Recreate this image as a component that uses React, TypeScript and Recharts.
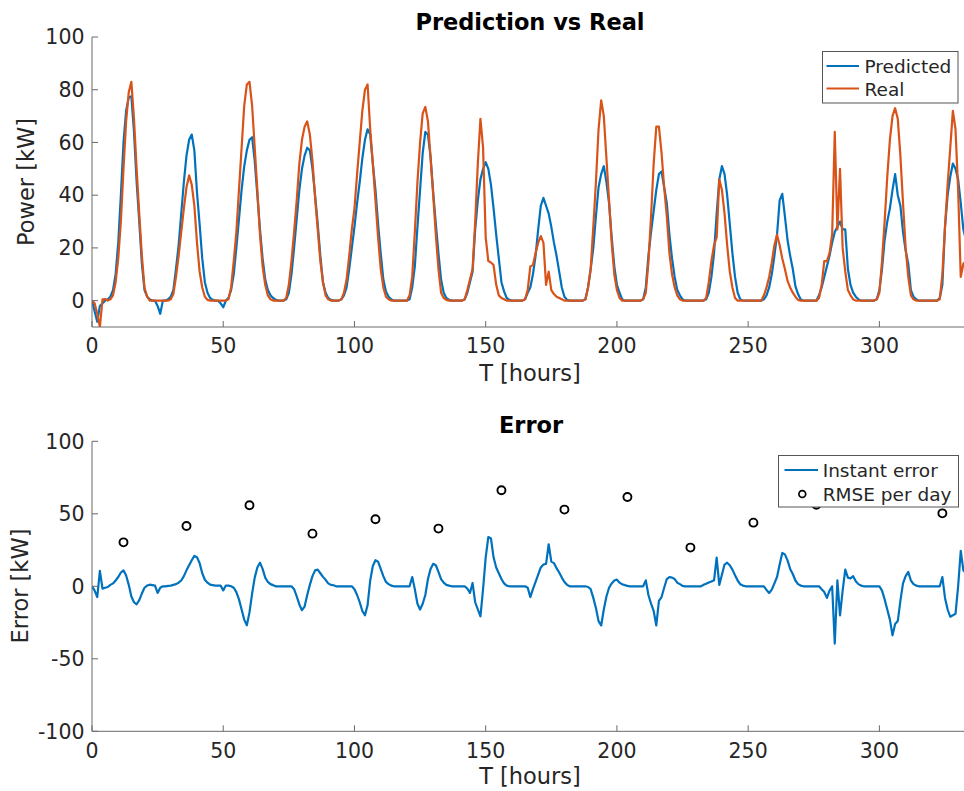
import { LineChart, ComposedChart, Line, Scatter, XAxis, YAxis } from 'recharts';

// hourly samples, t = 0..333 h (one row per day of 24 h)
const PREDICTED = [
  0, -4, -8, -2, -1, 0, 0.5, 1.5, 4, 10, 22, 40, 60, 72, 77, 77.5, 64, 45, 30, 14, 4, 1.5, 0.5, 0,
  0, -2, -5, 0, 0, 0.5, 1.5, 4, 12, 21, 33, 45, 55, 61, 63, 57, 41, 29, 16, 7, 3, 1, 0.3, 0,
  0, -1, -2.5, 0, 1, 4, 10, 20, 31, 42, 51, 57, 61, 62, 53, 40, 27, 16, 8, 4, 2, 1, 0.3, 0,
  0, 0, 0.5, 3, 10, 20, 31, 42, 50, 55, 58, 57, 50, 40, 29, 17, 7, 3, 1, 0.3, 0, 0, 0, 0.5,
  2, 5, 12, 20, 28, 37, 45, 54, 61, 65, 63, 52, 42, 29, 18, 8, 3.5, 1.5, 0.5, 0, 0, 0, 0, 0,
  0, 0.5, 5, 13, 28, 42, 56, 64, 63, 54.5, 41, 29, 18, 8, 3, 1, 0.3, 0, 0, 0, 0, 0, 0.5, 3,
  7, 11, 27, 38, 46, 50, 52.5, 50, 44, 35, 25, 16, 7, 3.5, 1, 0.3, 0, 0, 0, 0, 0, 0.5, 3, 5,
  10, 17, 27, 36, 39, 36, 33, 28, 22, 17, 11, 5, 1.5, 0.3, 0, 0, 0, 0, 0, 0, 0.5, 5, 12, 20,
  32, 43, 48, 51, 45, 37, 24, 13, 6, 3, 0.5, 0, 0, 0, 0, 0, 0, 0, 0.5, 5, 17, 26, 34, 42,
  48, 49, 43, 37, 25, 16, 9, 4, 2, 0.5, 0, 0, 0, 0, 0, 0, 0, 0, 0.5, 3, 9, 18, 33, 46,
  51, 48, 40, 29, 18, 9, 3, 0.5, 0, 0, 0, 0, 0, 0, 0, 0, 0.5, 2, 5, 10, 17, 25, 38, 40.5,
  32, 23, 17, 12, 5.5, 2.5, 0.5, 0, 0, 0, 0, 0, 0, 2, 5, 9, 13, 17, 22, 26, 28, 30, 27, 27,
  12, 6, 3, 1.5, 0.5, 0, 0, 0, 0, 0, 0, 0.5, 4, 12, 23, 30, 35, 42, 48, 40, 36, 26, 19, 14,
  4, 1.5, 0.5, 0, 0, 0, 0, 0, 0, 0, 0, 1, 6, 28, 40, 47, 52, 50, 46, 37, 27, 23,
];

const REAL = [
  0, -1, -5, -10, 0.5, 0.6, 0, 0.5, 2, 7, 16, 30, 50, 68, 79, 83, 69, 50, 33, 17, 5, 1.5, 0, 0,
  0, 0, 0, 0, 0, 0, 0.5, 2.5, 9, 17, 26, 35, 43, 47.5, 44, 36, 22, 11, 5, 1.5, 0.3, 0, 0, 0,
  0, 0, 0, 0, 0.5, 5, 15, 26, 42, 58, 74, 82, 83, 74, 58, 42, 25, 13, 6, 2, 0.5, 0, 0, 0,
  0, 0, 1, 6, 15, 26, 38, 52, 61, 66, 68, 63, 53, 39, 27, 15, 7, 2, 0.5, 0, 0, 0, 0, 0.5,
  3, 8, 17, 27, 35, 48, 60, 72, 80, 82, 65, 52, 38, 24, 12, 5, 1.5, 0.5, 0, 0, 0, 0, 0, 0,
  0, 2, 9, 26, 45, 60, 71, 73.5, 68, 54, 40, 25, 12, 3, 1, 0.3, 0, 0, 0, 0, 0, 0, 0.5, 4,
  8, 12, 30, 52, 69, 58, 24, 15, 14.5, 13.5, 6, 2, 1, 0.5, 0, 0, 0, 0, 0, 0, 0, 0.5, 4, 13,
  13.5, 18, 22, 24.5, 22, 6, 11, 4, 2.5, 1.5, 1, 0.5, 0, 0, 0, 0, 0, 0, 0, 0, 0.5, 5, 12, 28,
  45, 65, 76, 70, 54, 38, 22, 10, 4, 1, 0, 0, 0, 0, 0, 0, 0, 0, 0.5, 3, 14.5, 32, 52, 66,
  66, 56, 43, 32, 18, 10, 5, 2, 0.5, 0, 0, 0, 0, 0, 0, 0, 0, 0, 1, 7, 15, 21, 24, 46,
  42, 33, 21, 11, 5, 1, 0, 0, 0, 0, 0, 0, 0, 0, 0, 0, 2, 5, 9, 14.5, 21, 25, 21, 16,
  12, 7.5, 5, 3, 1.5, 0.3, 0, 0, 0, 0, 0, 0, 0, 1, 6, 15, 15, 18, 25, 64, 27, 50, 20, 11,
  4, 2, 0.5, 0, 0, 0, 0, 0, 0, 0, 0, 0.5, 3, 15, 30, 47, 61, 70, 73, 69, 55, 37, 20, 9,
  2, 0.5, 0, 0, 0, 0, 0, 0, 0, 0, 0, 0.5, 10, 28, 44, 58, 72, 65, 42, 9, 14, 15,
];

const INSTANT_ERROR = [
  0, -3, -7.4, 10.6, -1.6, -1, -0.5, 1, 2, 4, 6.4, 9.5, 11, 7.5, 1, -7, -11, -12.4, -9.5, -5, -1, 0.5, 1.1, 0.8,
  0.5, -4.6, -1, 0, 0, 0.3, 0.5, 1, 1.5, 2.5, 4, 7, 11, 14.5, 18, 21, 20, 16, 9, 4.5, 2.5, 1.1, 0.8, 0.5,
  0.5, 0.5, -2.8, 0.5, 0.5, 0, -1, -4, -9, -16, -23, -26.9, -18, -5, 6, 13, 16.3, 12, 6, 3, 1.5, 0.8, 0, 0,
  0, 0, 0, 0, 0, -2, -7, -12.5, -16.5, -14, -6, 1, 7, 11, 11.5, 9, 6.5, 4.5, 2, 1, 0.7, 0, 0, 0,
  0, 0, 0, 0, -2, -6, -11, -17, -20, -13, 4, 14, 18, 17, 12, 7, 3, 1.5, 0.5, 0, 0, 0, 0, 0,
  0, 0, 6.4, -2, -12, -16, -12, -6, 5, 12, 15.5, 14.5, 10, 5, 2.5, 1, 0.5, 0, 0, 0, 0, 0, 0, -1.5,
  -4.6, 2.3, -11, -16, -20.7, -2, 20, 34, 33, 20, 13, 9, 5, 2, 0.5, 0, 0, 0, 0, 0, 0, 0, -1, -7.4,
  -2, 3, 8, 13, 15, 15.5, 29, 17, 16, 12.5, 9.5, 6, 3, 1, 0, 0, 0, 0, 0, 0, 0, -0.5, -2, -8,
  -15, -24, -27, -16, -7, -1, 2, 4, 4.6, 2.5, 1.4, 0.8, 0.3, 0, 0, 0, 0, 0, 0, 4.1, -6, -12, -17, -27,
  -10, -7.4, -1, 5, 6.4, 6, 5, 2.5, 1.5, 0.3, 0, 0, 0, 0, 0, 0, 0, 1, 1.8, 2.6, 3.3, 4.1, 19.8, 1,
  8, 15, 16.3, 14.5, 11.5, 7.6, 4, 1.4, 0.5, 0, 0, 0, 0, 0, 0, 0, 0, -2.5, -4.6, -2.3, 2, 6.4, 15, 23,
  22, 17.9, 12, 8.5, 4, 1.5, 0.5, 0, 0, 0, 0, 0, 0, 0, -2, -3.9, -8, -3, 0, -39.5, 4.1, -20, -3, 11.5,
  6, 5.5, 7, 3.5, 1.5, 0.5, 0, 0, 0, 0, 0, 0, 0, -3, -9, -16, -23, -33.8, -26, -24, -10, 2, 7, 9.9,
  4, 1.5, 0.5, 0, 0, 0, 0, 0, 0, 0, 0, 0, 6.4, -8, -16, -21, -20, -19, 0, 24.4, 11, 9,
];

const RMSE_HOURS = [12, 36, 60, 84, 108, 132, 156, 180, 204, 228, 252, 276, 300, 324];
const RMSE_VALUES = [30.3, 41.6, 55.9, 36.3, 46.2, 39.8, 66.2, 52.9, 61.6, 26.7, 43.9, 56.2, 72, 50.3];

const X_TICKS = [0, 50, 100, 150, 200, 250, 300];
const POWER_TICKS = [0, 20, 40, 60, 80, 100];
const ERROR_TICKS = [-100, -50, 0, 50, 100];

const powerRows = PREDICTED.map((p, i) => ({ t: i, predicted: p, real: REAL[i] }));
const errorRows = INSTANT_ERROR.map((e, i) => ({ t: i, error: e }));
const rmseRows = RMSE_HOURS.map((t, i) => ({ t, rmse: RMSE_VALUES[i] }));

const FONT = 'DejaVu Sans';
const BLUE = '#0072BD';
const ORANGE = '#D95319';
const AXIS = '#6a6a6a';
const TEXT = '#262626';
const X_DOMAIN: [number, number] = [0, 333];
const LINE_W = 2.2;

const tickStyle = { fill: TEXT, fontSize: 20.5, fontFamily: FONT };

// matlab-style box: inward ticks on all four sides, labels only bottom/left
function frameAxes(yDomain: [number, number], yTicks: number[], xMargin: number) {
  return [
    <XAxis
      key="xb"
      dataKey="t"
      type="number"
      domain={X_DOMAIN}
      ticks={X_TICKS}
      interval={0}
      allowDataOverflow
      height={30}
      tickSize={-6}
      tickMargin={xMargin}
      tick={tickStyle}
      stroke={AXIS}
    />,
    <XAxis
      key="xt"
      xAxisId="top"
      orientation="top"
      dataKey="t"
      type="number"
      domain={X_DOMAIN}
      ticks={X_TICKS}
      interval={0}
      allowDataOverflow
      height={0}
      tickSize={-6}
      tick={false}
      stroke={AXIS}
    />,
    <YAxis
      key="yl"
      type="number"
      domain={yDomain}
      ticks={yTicks}
      interval={0}
      allowDataOverflow
      width={92}
      tickSize={-6}
      tickMargin={13.5}
      tick={tickStyle}
      stroke={AXIS}
    />,
    <YAxis
      key="yr"
      yAxisId="right"
      orientation="right"
      type="number"
      domain={yDomain}
      ticks={yTicks}
      interval={0}
      allowDataOverflow
      width={0}
      tickSize={-6}
      tick={false}
      stroke={AXIS}
    />,
  ];
}

export default function App() {
  return (
    <div
      style={{
        position: 'absolute',
        left: 0,
        top: 0,
        width: 964,
        height: 791,
        overflow: 'hidden',
        background: '#fff',
        fontFamily: FONT,
      }}
    >
      <div style={{ position: 'absolute', left: 0, top: 0 }}>
        <LineChart width={974} height={400} data={powerRows} margin={{ top: 37, right: 8, bottom: 43, left: 0 }}>
          {frameAxes([-10, 100], POWER_TICKS, 17)}
          <Line
            dataKey="predicted"
            type="linear"
            stroke={BLUE}
            strokeWidth={LINE_W}
            strokeLinejoin="round"
            dot={false}
            activeDot={false}
            isAnimationActive={false}
          />
          <Line
            dataKey="real"
            type="linear"
            stroke={ORANGE}
            strokeWidth={LINE_W}
            strokeLinejoin="round"
            dot={false}
            activeDot={false}
            isAnimationActive={false}
          />
        </LineChart>
      </div>

      <div style={{ position: 'absolute', left: 0, top: 400 }}>
        <ComposedChart width={974} height={391} data={errorRows} margin={{ top: 41.3, right: 8, bottom: 29.7, left: 0 }}>
          {frameAxes([-100, 100], ERROR_TICKS, 18)}
          <Line
            dataKey="error"
            type="linear"
            stroke={BLUE}
            strokeWidth={LINE_W}
            strokeLinejoin="round"
            dot={false}
            activeDot={false}
            isAnimationActive={false}
          />
          <Scatter
            data={rmseRows}
            dataKey="rmse"
            isAnimationActive={false}
            shape={(p: any) => (
              <circle cx={p.cx} cy={p.cy} r={4} fill="none" stroke="#000" strokeWidth={1.9} />
            )}
          />
        </ComposedChart>
      </div>

      {/* titles, axis labels and legends */}
      <svg
        width={964}
        height={791}
        style={{ position: 'absolute', left: 0, top: 0, pointerEvents: 'none' }}
        fontFamily={FONT}
      >
        <text x={530} y={30} textAnchor="middle" fontSize={22.5} fontWeight="bold" fill="#000">
          Prediction vs Real
        </text>
        <text x={530} y={381} textAnchor="middle" fontSize={22.5} fill={TEXT}>
          T [hours]
        </text>
        <text transform="translate(34.4,182) rotate(-90)" textAnchor="middle" fontSize={22.5} fill={TEXT}>
          Power [kW]
        </text>

        <text x={531} y={433.3} textAnchor="middle" fontSize={22.5} fontWeight="bold" fill="#000">
          Error
        </text>
        <text x={530} y={784.4} textAnchor="middle" fontSize={22.5} fill={TEXT}>
          T [hours]
        </text>
        <text transform="translate(28.1,586) rotate(-90)" textAnchor="middle" fontSize={22.5} fill={TEXT}>
          Error [kW]
        </text>

        <rect x={822.5} y={51.5} width={135.5} height={51.5} fill="#fff" stroke="#555" strokeWidth={1} />
        <line x1={826.5} y1={66} x2={859} y2={66} stroke={BLUE} strokeWidth={LINE_W} />
        <text x={864.5} y={73} fontSize={18.5} fill={TEXT}>Predicted</text>
        <line x1={826.5} y1={88.5} x2={859} y2={88.5} stroke={ORANGE} strokeWidth={LINE_W} />
        <text x={864.5} y={96} fontSize={18.5} fill={TEXT}>Real</text>

        <rect x={778.5} y={455.5} width={180} height={51.5} fill="#fff" stroke="#555" strokeWidth={1} />
        <line x1={784.5} y1={470} x2={818} y2={470} stroke={BLUE} strokeWidth={LINE_W} />
        <text x={822.7} y={477.3} fontSize={18.5} fill={TEXT}>Instant error</text>
        <circle cx={802.3} cy={494} r={3.4} fill="none" stroke="#000" strokeWidth={1.7} />
        <text x={822.7} y={500.5} fontSize={18.5} fill={TEXT}>RMSE per day</text>
      </svg>
    </div>
  );
}
